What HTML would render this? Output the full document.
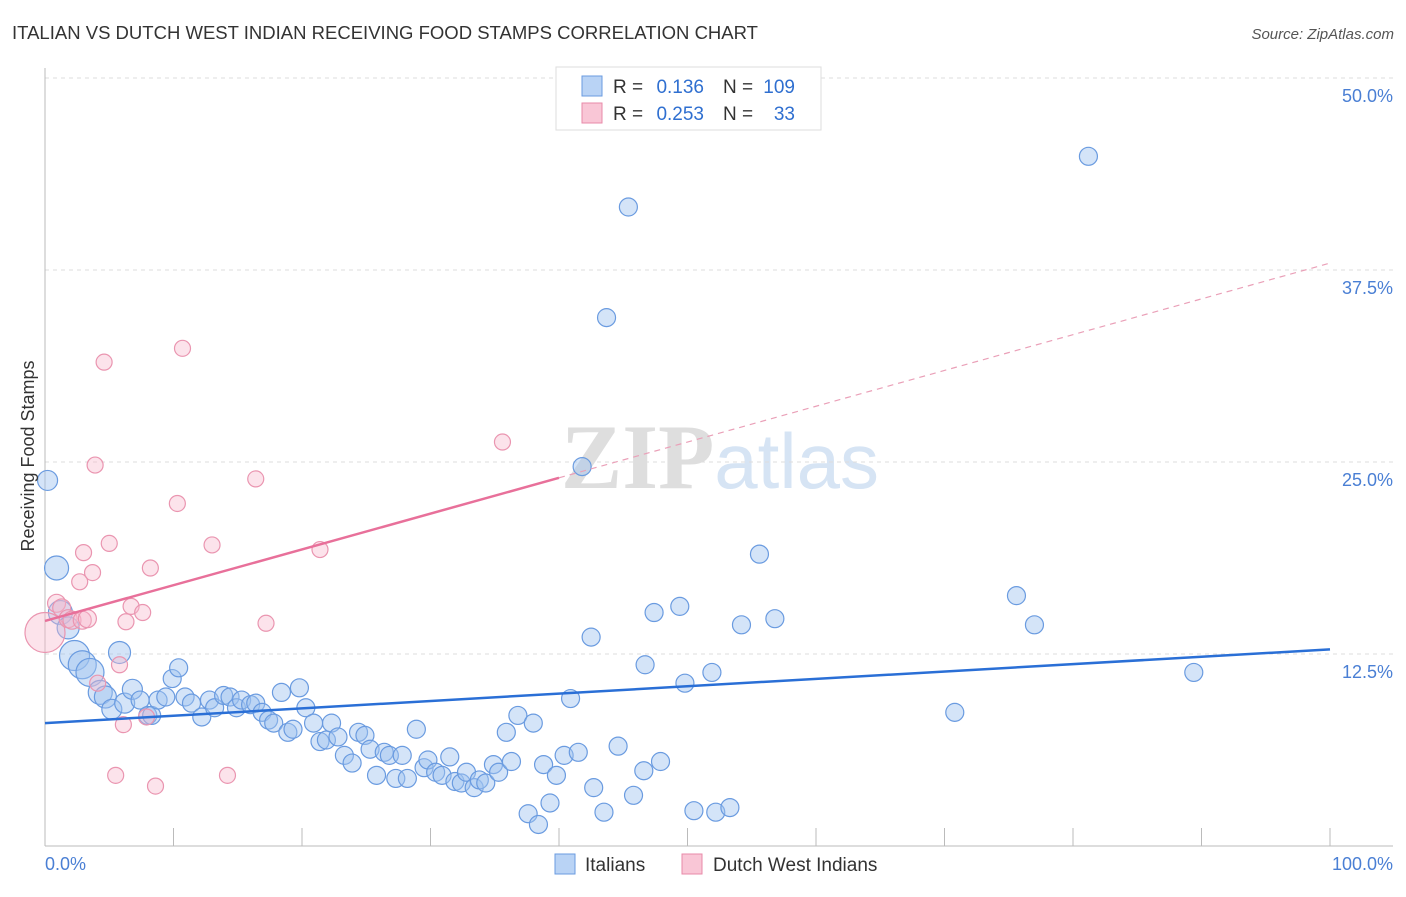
<!DOCTYPE html>
<html><head><meta charset="utf-8"><style>
body{margin:0;background:#fff;font-family:"Liberation Sans",sans-serif}
svg text{font-family:"Liberation Sans",sans-serif}
</style></head><body>
<svg id="chart" width="1406" height="892" xmlns="http://www.w3.org/2000/svg">
<text x="12" y="39" font-size="18" fill="#333" textLength="746" lengthAdjust="spacingAndGlyphs">ITALIAN VS DUTCH WEST INDIAN RECEIVING FOOD STAMPS CORRELATION CHART</text>
<text x="1394" y="39" font-size="15" fill="#555" text-anchor="end" font-style="italic">Source: ZipAtlas.com</text>
<text x="720" y="488" font-size="92" text-anchor="middle" fill="#e4e4e4"><tspan font-family="Liberation Serif" font-weight="bold" fill="#dedede">ZIP</tspan><tspan fill="#d6e4f4" font-size="78">atlas</tspan></text>
<g id="grid"></g>
<g id="axes"></g>
<g id="points"></g>
<g id="trends"></g>
<text transform="translate(34,456) rotate(-90)" font-size="18" fill="#333" text-anchor="middle">Receiving Food Stamps</text>
<text x="45" y="870" font-size="18" fill="#4a7fd4">0.0%</text>
<text x="1393" y="870" font-size="18" fill="#4a7fd4" text-anchor="end">100.0%</text>
<g>
<rect x="556" y="67" width="265" height="63" fill="#fff" stroke="#ddd"/>
<rect x="582" y="76" width="20" height="20" fill="#b9d3f5" stroke="#6a9be0"/>
<rect x="582" y="103" width="20" height="20" fill="#f9c6d6" stroke="#e88aa8"/>
<text x="613" y="93" font-size="19" fill="#333">R =</text>
<text x="704" y="93" font-size="19" fill="#2f6fd0" text-anchor="end">0.136</text>
<text x="723" y="93" font-size="19" fill="#333">N =</text>
<text x="795" y="93" font-size="19" fill="#2f6fd0" text-anchor="end">109</text>
<text x="613" y="120" font-size="19" fill="#333">R =</text>
<text x="704" y="120" font-size="19" fill="#2f6fd0" text-anchor="end">0.253</text>
<text x="723" y="120" font-size="19" fill="#333">N =</text>
<text x="795" y="120" font-size="19" fill="#2f6fd0" text-anchor="end">33</text>
</g>
<g>
<rect x="555" y="854" width="20" height="20" fill="#b9d3f5" stroke="#6a9be0"/>
<text x="585" y="871" font-size="19" fill="#333">Italians</text>
<rect x="682" y="854" width="20" height="20" fill="#f9c6d6" stroke="#e88aa8"/>
<text x="713" y="871" font-size="19" fill="#333">Dutch West Indians</text>
</g>
</svg>
<script>
const yTicks=[12.5,25,37.5,50];
const yTickLabels=["12.5%","25.0%","37.5%","50.0%"];
const xTicks=[0,10,20,30,40,50,60,70,80,90,100];
const italiansX=[0.2,0.9,1.2,1.8,2.3,2.9,3.5,4.3,4.7,5.2,5.8,6.2,6.8,7.4,8.0,8.3,8.8,9.4,9.9,10.4,10.9,11.4,12.2,12.8,13.2,13.9,14.4,14.9,15.3,16.0,16.4,16.9,17.4,17.8,18.4,18.9,19.3,19.8,20.3,20.9,21.4,21.9,22.3,22.8,23.3,23.9,24.4,24.9,25.3,25.8,26.4,26.8,27.3,27.8,28.2,28.9,29.5,29.8,30.4,30.9,31.5,31.9,32.4,32.8,33.4,33.8,34.3,34.9,35.3,35.9,36.3,36.8,37.6,38.0,38.4,38.8,39.3,39.8,40.4,40.9,41.5,41.8,42.5,42.7,43.5,43.7,44.6,45.4,45.8,46.6,46.7,47.4,47.9,49.4,49.8,50.5,51.9,52.2,53.3,54.2,55.6,56.8,70.8,75.6,77.0,81.2,89.4];
const italiansY=[23.8,18.1,15.2,14.2,12.4,11.8,11.3,10.0,9.7,8.9,12.6,9.3,10.2,9.5,8.5,8.5,9.5,9.7,10.9,11.6,9.7,9.3,8.4,9.5,9.0,9.8,9.7,9.0,9.5,9.2,9.3,8.7,8.2,8.0,10.0,7.4,7.6,10.3,9.0,8.0,6.8,6.9,8.0,7.1,5.9,5.4,7.4,7.2,6.3,4.6,6.1,5.9,4.4,5.9,4.4,7.6,5.1,5.6,4.8,4.6,5.8,4.2,4.1,4.8,3.8,4.3,4.1,5.3,4.8,7.4,5.5,8.5,2.1,8.0,1.4,5.3,2.8,4.6,5.9,9.6,6.1,24.7,13.6,3.8,2.2,34.4,6.5,41.6,3.3,4.9,11.8,15.2,5.5,15.6,10.6,2.3,11.3,2.2,2.5,14.4,19.0,14.8,8.7,16.3,14.4,44.9,11.3];
const italiansR=[10,12,12,11,15,14,14,12,11,10,11,10,10,9,9,9,9,9,9,9,9,9,9,9,9,9,9,9,9,9,9,9,9,9,9,9,9,9,9,9,9,9,9,9,9,9,9,9,9,9,9,9,9,9,9,9,9,9,9,9,9,9,9,9,9,9,9,9,9,9,9,9,9,9,9,9,9,9,9,9,9,9,9,9,9,9,9,9,9,9,9,9,9,9,9,9,9,9,9,9,9,9,9,9,9,9,9];
const dutchX=[0,0.9,1.3,1.8,2.1,2.9,3.3,3.0,2.7,3.7,3.9,4.1,4.6,5.0,5.5,5.8,6.1,6.3,6.7,7.6,7.9,8.2,8.6,10.3,10.7,13.0,14.2,16.4,17.2,21.4,35.6];
const dutchY=[13.9,15.8,15.5,14.8,14.7,14.7,14.8,19.1,17.2,17.8,24.8,10.6,31.5,19.7,4.6,11.8,7.9,14.6,15.6,15.2,8.4,18.1,3.9,22.3,32.4,19.6,4.6,23.9,14.5,19.3,26.3];
const dutchR=[20,9,9,9,9,9,9,8,8,8,8,8,8,8,8,8,8,8,8,8,8,8,8,8,8,8,8,8,8,8,8];
const italiansTrend=[8.0,0.048];
const dutchTrend=[14.65,0.233];
const dutchSolidEnd=40;

const NS="http://www.w3.org/2000/svg";
const X0=45,X1=1330,Y0=846,PPY=15.36;
const sx=v=>X0+(X1-X0)*v/100;
const sy=v=>Y0-v*PPY;
function mk(tag,attrs,parent){const e=document.createElementNS(NS,tag);for(const k in attrs)e.setAttribute(k,attrs[k]);parent.appendChild(e);return e;}
const grid=document.getElementById('grid'),axes=document.getElementById('axes'),pts=document.getElementById('points'),tr=document.getElementById('trends');
yTicks.forEach((t,i)=>{
 const l=mk('line',{x1:X0,x2:1393,y1:sy(t),y2:sy(t),stroke:'#ddd','stroke-dasharray':'4,4'},grid);
 
 
 const tx=mk('text',{x:1393,y:sy(t)+24,'font-size':18,fill:'#4a7fd4','text-anchor':'end'},grid);
 tx.textContent=yTickLabels[i];
 
 
});
const ya=mk('line',{x1:X0,x2:X0,y1:68,y2:Y0,stroke:'#bbb'},axes);


const xa=mk('line',{x1:X0,x2:1393,y1:Y0,y2:Y0,stroke:'#bbb'},axes);


xTicks.forEach(t=>{
 const l=mk('line',{x1:sx(t),x2:sx(t),y1:828,y2:Y0,stroke:'#bbb'},axes);
 
 
});
italiansX.forEach((x,i)=>{
 const c=mk('circle',{cx:sx(x),cy:sy(italiansY[i]),r:italiansR[i],fill:'rgba(160,196,240,0.45)',stroke:'#6a9be0','stroke-width':1.2},pts);
 
 
});
dutchX.forEach((x,i)=>{
 const c=mk('circle',{cx:sx(x),cy:sy(dutchY[i]),r:dutchR[i],fill:'rgba(248,185,205,0.4)',stroke:'#ea95b0','stroke-width':1.2},pts);
 
 
});
const bl=mk('line',{x1:sx(0),y1:sy(italiansTrend[0]),x2:sx(100),y2:sy(italiansTrend[0]+italiansTrend[1]*100),stroke:'#2a6fd6','stroke-width':2.5},tr);


const pl=mk('line',{x1:sx(0),y1:sy(dutchTrend[0]),x2:sx(dutchSolidEnd),y2:sy(dutchTrend[0]+dutchTrend[1]*dutchSolidEnd),stroke:'#e8709a','stroke-width':2.5},tr);


const pd=mk('line',{x1:sx(dutchSolidEnd),y1:sy(dutchTrend[0]+dutchTrend[1]*dutchSolidEnd),x2:sx(100),y2:sy(dutchTrend[0]+dutchTrend[1]*100),stroke:'#eaa0b8','stroke-width':1.2,'stroke-dasharray':'6,5'},tr);


</script>
</body></html>
